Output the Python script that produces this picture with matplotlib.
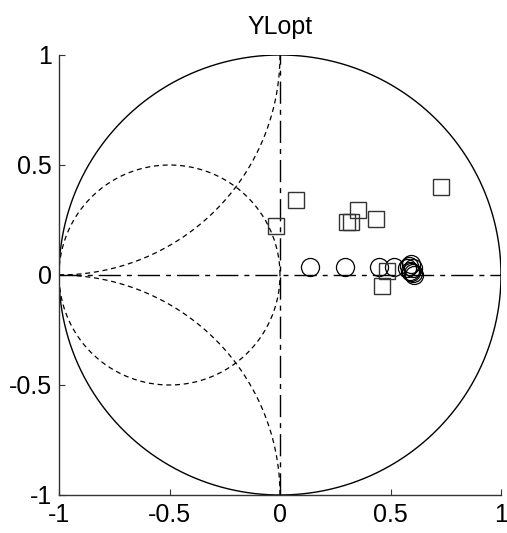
import numpy as np
import matplotlib
matplotlib.use("Agg")
import matplotlib.pyplot as plt

plt.rcParams['font.family'] = ['Liberation Sans', 'DejaVu Sans']

title = "YLopt"
ticks = [-1, -0.5, 0, 0.5, 1]
tick_labels = ["-1", "-0.5", "0", "0.5", "1"]

# open circles
circle_x = [0.137, 0.296, 0.448, 0.516, 0.575, 0.585, 0.590, 0.595, 0.600, 0.600, 0.605, 0.595]
circle_y = [0.035, 0.035, 0.035, 0.035, 0.030, 0.040, 0.020, 0.050, 0.010, 0.030, 0.000, 0.015]

# open squares
square_x = [0.071, -0.017, 0.354, 0.302, 0.320, 0.434, 0.727, 0.460, 0.483]
square_y = [0.343, 0.225, 0.294, 0.243, 0.243, 0.253, 0.401, -0.048, 0.018]

fig = plt.figure(figsize=(5.07, 5.33), dpi=100)
ax = fig.add_axes([59 / 507, (533 - 495) / 533, 442 / 507, 440 / 533])

t = np.linspace(0, 2 * np.pi, 400)
# unit circle
ax.plot(np.cos(t), np.sin(t), color='black', lw=1.0)
# dashed circle centred (-0.5, 0) r = 0.5
ax.plot(-0.5 + 0.5 * np.cos(t), 0.5 * np.sin(t), color='black', lw=0.9, dashes=(4, 3))
# dashed arcs centred (-1, +-1) r = 1
a = np.linspace(-np.pi / 2, 0, 200)
ax.plot(-1 + np.cos(a), 1 + np.sin(a), color='black', lw=0.9, dashes=(4, 3))
a2 = np.linspace(0, np.pi / 2, 200)
ax.plot(-1 + np.cos(a2), -1 + np.sin(a2), color='black', lw=0.9, dashes=(4, 3))
# dash-dot axes lines
ax.plot([-1, 1], [0, 0], color='black', lw=1.0, dashes=(16, 4.3, 3.6, 4.3))
ax.plot([0, 0], [-1, 1], color='black', lw=1.0, dashes=(16, 4.3, 3.6, 4.3))

ax.plot(circle_x, circle_y, linestyle='none', marker='o', markersize=13,
        markerfacecolor='none', markeredgecolor='black', markeredgewidth=0.9, zorder=5)
ax.plot(square_x, square_y, linestyle='none', marker='s', markersize=11.5,
        markerfacecolor='none', markeredgecolor='#333333', markeredgewidth=1.0, zorder=5)

ax.set_xlim(-1, 1)
ax.set_ylim(-1, 1)
ax.set_xticks(ticks)
ax.set_xticklabels(tick_labels)
ax.set_yticks(ticks)
ax.set_yticklabels(tick_labels)
ax.tick_params(direction='in', length=4, labelsize=18, colors='#333333', labelcolor='black')
ax.tick_params(axis='x', pad=6)
ax.tick_params(axis='y', pad=5)
for s in ['top', 'right']:
    ax.spines[s].set_visible(False)
for s in ['left', 'bottom']:
    ax.spines[s].set_color('#333333')
    ax.spines[s].set_linewidth(1.0)
ax.set_title(title, fontsize=18, pad=15)

fig.savefig("out.png", dpi=100)
